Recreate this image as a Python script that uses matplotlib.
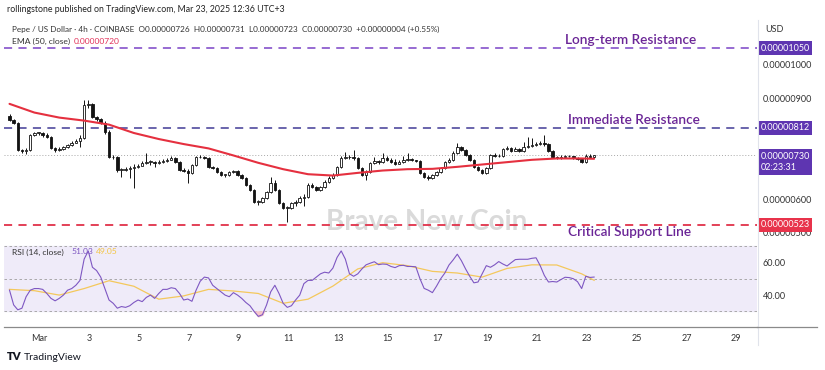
import matplotlib
matplotlib.use("Agg")
import matplotlib.pyplot as plt
import matplotlib.dates as mdates
import matplotlib.transforms as mtransforms
from matplotlib.lines import Line2D
import numpy as np
import pandas as pd

plt.rcParams['font.family'] = ['Lato', 'DejaVu Sans']

# PEPE/USD 4h candles, prices in units of 1e-8 USD (730 -> 0.00000730)
first_open = 848
close = [836, 827, 746, 743, 746, 791, 797, 797, 791, 785, 752, 746, 749, 755, 761, 767, 773, 782,
         881, 884, 845, 839, 827, 800, 725, 725, 687, 687, 690, 693, 696, 699, 708, 711,
         711, 708, 711, 713, 716, 722, 711, 687, 684, 678, 702, 725, 725, 722, 696, 693, 681, 672,
         672, 681, 684, 672, 663, 642, 627, 591, 591, 603, 621, 648, 627, 588, 573, 573, 588,
         591, 603, 606, 642, 636, 627, 636, 651, 663, 672, 696, 722, 725, 725, 722, 693, 672, 681,
         708, 713, 711, 722, 716, 711, 705, 711, 716, 719, 716, 713, 678, 666, 663, 672, 681,
         693, 711, 716, 737, 755, 746, 731, 716, 696, 687, 678, 693, 731, 728, 728, 749, 752, 743,
         749, 743, 755, 758, 761, 764, 767, 764, 743, 725, 722, 725, 728, 728, 722, 719, 711, 729,
         726, 730]
high = [854, 839, 830, 749, 752, 794, 800, 800, 800, 797, 788, 755, 755, 758, 764, 773, 779, 791,
        896, 896, 887, 848, 842, 833, 806, 731, 728, 693, 696, 699, 705, 705, 713, 737,
        716, 713, 716, 719, 722, 728, 725, 713, 693, 690, 705, 728, 731, 728, 725, 699, 696, 684,
        675, 684, 687, 687, 675, 666, 645, 630, 597, 606, 624, 666, 657, 630, 591, 579, 591,
        597, 609, 615, 648, 648, 639, 639, 657, 669, 678, 699, 728, 740, 731, 746, 725, 696, 687,
        711, 725, 716, 737, 728, 722, 719, 716, 728, 737, 722, 716, 716, 681, 672, 675, 684,
        696, 713, 722, 743, 767, 758, 749, 734, 719, 699, 690, 696, 734, 737, 734, 752, 758, 755,
        755, 752, 770, 785, 782, 770, 773, 791, 767, 746, 728, 731, 731, 731, 728, 725, 722, 734,
        734, 731]
low = [833, 824, 743, 737, 734, 743, 788, 791, 785, 782, 749, 740, 743, 746, 752, 758, 767, 755,
       779, 872, 842, 833, 824, 794, 722, 719, 681, 666, 684, 663, 633, 693, 702, 705,
       702, 696, 705, 708, 711, 716, 708, 684, 681, 648, 675, 699, 722, 719, 693, 690, 678, 669,
       666, 669, 678, 669, 660, 639, 624, 588, 582, 588, 600, 618, 624, 585, 570, 531, 570,
       579, 588, 579, 603, 633, 624, 624, 633, 648, 660, 669, 693, 719, 719, 716, 690, 669, 657,
       678, 705, 705, 708, 713, 708, 702, 705, 708, 713, 713, 711, 675, 663, 657, 660, 669,
       678, 690, 708, 713, 734, 743, 728, 713, 693, 684, 675, 675, 690, 725, 725, 725, 746, 740,
       743, 740, 740, 752, 755, 758, 761, 758, 740, 722, 719, 719, 722, 725, 719, 716, 708, 708,
       724, 723]

# EMA(50) read once per day (every 6th candle) plus the last candle
ema_idx = list(range(0, 142, 6)) + [141]
ema = [884, 858, 843, 834, 822, 797, 779, 764, 751, 730, 708, 689, 674, 670, 678, 685,
       689, 690, 696, 703, 710, 717, 721, 721, 720]

rsi = [43, 34, 31, 32, 39, 43, 44, 44, 43.5, 41, 38, 36.5, 38, 40, 43, 44, 46, 49, 62, 67,
       57, 55, 51, 44, 37, 35, 32, 33, 32.5, 33.5, 35.5, 37, 36, 38.6, 40, 38, 41, 43.5, 43.5,
       44.5, 44, 41, 37, 37.6, 36.2, 43, 48.5, 51, 50.5, 46, 44, 42, 40, 39, 41.5, 40, 38, 35.5,
       33.5, 30, 27, 28, 34, 42, 46, 41, 35, 32.5, 33.5, 37, 40, 47, 49, 49, 51, 53, 54, 53.5,
       56.5, 63, 67, 62, 53, 51.5, 53, 56, 58.5, 59.5, 60.4, 58.6, 59, 58.8, 57.5, 56.8, 58,
       58.2, 57.5, 57.5, 57.3, 50, 44.1, 43, 41.5, 45.5, 50, 53.5, 58.4, 61.5, 65, 61, 56, 51.5,
       47.5, 48, 53, 58, 57, 58.5, 60.5, 59, 57.8, 59.8, 61.7, 61.9, 61.9, 61.9, 62.5, 62.8, 58,
       52, 48, 48.3, 48, 49.5, 50.9, 50.7, 50, 48.2, 44, 51.5, 50.8, 51.03]
rsi_ma = [43.5, 42.7, 40, 44, 48.8, 45.4, 37.5, 39.5, 43.5, 42.5, 41, 35, 37.5, 45.5, 56,
          59.8, 58, 54.5, 53.5, 51, 56.3, 58.5, 58.4, 53, 49.05]

levels = {"Long-term Resistance": 1050, "Immediate Resistance": 812, "Critical Support Line": 523}
last_price = 730
day_ticks = ["2025-03-%02d" % d for d in range(1, 30, 2)]
day_labels = ["Mar"] + [str(d) for d in range(3, 30, 2)]

times = pd.date_range(end="2025-03-23 07:00", periods=len(close), freq="4h")
t = mdates.date2num(times)
c = np.array(close, float)
o = np.r_[first_open, c[:-1]]
hi = np.array(high, float)
lo = np.array(low, float)
r = np.array(rsi)

W, H = 825, 370
fig = plt.figure(figsize=(W / 100, H / 100), dpi=100)


def box(l, top, rgt, bot):
    return [l / W, 1 - bot / H, (rgt - l) / W, (bot - top) / H]


ax = fig.add_axes(box(4, 20, 757, 238))
rx = fig.add_axes(box(4, 238, 757, 327), sharex=ax)

base = mdates.date2num(pd.Timestamp("2025-03-01"))
ax.set_xlim(base - 1.43, base + 28.84)
ax.set_ylim(483.6, 1134.3)

# candles
ax.vlines(t, lo, hi, color="#131313", lw=0.7, zorder=3)
up = c >= o
bot = np.minimum(o, c)
hgt = np.maximum(np.abs(c - o), 1.8)
ax.bar(t[up], hgt[up], bottom=bot[up], width=0.1, color="white", edgecolor="#131313", lw=0.6, zorder=4)
ax.bar(t[~up], hgt[~up], bottom=bot[~up], width=0.1, color="#131313", edgecolor="#131313", lw=0.6, zorder=4)

ax.plot(t[ema_idx], ema, color="#e5303f", lw=1.5, zorder=5, solid_capstyle="round")

ax.axhline(last_price, color="#a8a8a8", lw=0.7, ls=(0, (1, 2)), zorder=2)
line_cols = ["#8f5fcf", "#5e58a6", "#e0324a"]
for (name, v), col in zip(levels.items(), line_cols):
    ax.axhline(v, color=col, lw=1.3, ls=(0, (4.5, 3.5)), zorder=2)

lab_y = {"Long-term Resistance": 40, "Immediate Resistance": 120, "Critical Support Line": 232}
for name in levels:
    fig.text(565 / W if name.startswith("Long") else 568 / W, 1 - lab_y[name] / H, name,
             fontsize=9.8, fontweight="semibold", color="#6a2596", va="center", ha="left", zorder=6)

ax.text(427 / W, 1 - 222 / H, "Brave New Coin", transform=fig.transFigure, fontsize=20,
        fontweight="bold", color="#dadada", ha="center", va="center", zorder=1)

ax.yaxis.tick_right()
ax.set_yticks([500, 600, 900, 1000])
ax.yaxis.set_major_formatter(plt.FuncFormatter(lambda v, p: "%.8f" % (v * 1e-8)))
ax.tick_params(axis="y", length=0, labelsize=6.5, labelcolor="#333333", pad=4)
ax.tick_params(axis="x", bottom=False, labelbottom=False)
for s in ax.spines.values():
    s.set_visible(False)

trans = mtransforms.blended_transform_factory(ax.transAxes, ax.transData)


def tag(y, txt, fc, va="center"):
    ax.text(1.0045, y, txt, transform=trans, ha="left", va=va, fontsize=6.5, color="white",
            linespacing=1.35, bbox=dict(boxstyle="square,pad=0.28", fc=fc, ec="none"),
            clip_on=False, zorder=10)


tag(levels["Long-term Resistance"], "0.00001050", "#5e35b1")
tag(levels["Immediate Resistance"], "0.00000812", "#5e35b1")
tag(levels["Critical Support Line"], "0.00000523", "#e8334b")
tag(741, "0.00000730\n02:23:31", "#5e35b1", va="top")

# RSI pane
rx.set_ylim(20.5, 74.9)
rx.axhspan(30, 70, color="#efebf9", zorder=0)
for lvl in (70, 50, 30):
    rx.axhline(lvl, color="#9e9e9e", lw=0.6, ls=(0, (3, 3)), zorder=1)
rx.fill_between(t, r, 30, where=r < 30, interpolate=True, color="#f7c6cc", zorder=2)
rx.plot(t[ema_idx], rsi_ma, color="#f4c85c", lw=0.9, zorder=3)
rx.plot(t, r, color="#7e57c2", lw=0.8, zorder=4)
rx.yaxis.tick_right()
rx.set_yticks([40, 60])
rx.yaxis.set_major_formatter(plt.FuncFormatter(lambda v, p: "%.2f" % v))
rx.tick_params(axis="y", length=0, labelsize=6.5, labelcolor="#333333", pad=4)
rx.set_xticks(mdates.date2num(pd.to_datetime(day_ticks)))
rx.set_xticklabels(day_labels)
rx.tick_params(axis="x", length=0, labelsize=6.5, labelcolor="#333333", pad=5)
for k, s in rx.spines.items():
    s.set_visible(k == "bottom")
rx.spines["bottom"].set_color("#8a8a8a")
rx.spines["bottom"].set_linewidth(0.9)

fig.add_artist(Line2D([757.5 / W] * 2, [1 - 20 / H, 1 - 345 / H], color="#e0e3eb", lw=0.8))
fig.add_artist(Line2D([757 / W, 817 / W], [1 - 327 / H] * 2, color="#8a8a8a", lw=0.9))

# header texts
fig.text(7 / W, 1 - 10 / H, "rollingstone published on TradingView.com, Mar 23, 2025 12:36 UTC+3",
         fontsize=6.3, color="#222222", va="center")
fig.text(12 / W, 1 - 29 / H,
         "Pepe / US Dollar \u00b7 4h \u00b7 COINBASE  O0.00000726  H0.00000731  L0.00000723  "
         "C0.00000730  +0.00000004 (+0.55%)", fontsize=5.9, color="#333333", va="center")
fig.text(12 / W, 1 - 41 / H, "EMA (50, close)", fontsize=6.1, color="#333333", va="center")
fig.text(74 / W, 1 - 41 / H, "0.00000720", fontsize=6.1, color="#e2325a", va="center")
fig.text(12 / W, 1 - 252 / H, "RSI (14, close)", fontsize=6.1, color="#333333", va="center")
fig.text(71 / W, 1 - 252 / H, "51.03", fontsize=6.1, color="#7e57c2", va="center")
fig.text(96 / W, 1 - 252 / H, "49.05", fontsize=6.1, color="#f4c542", va="center")
fig.text(765 / W, 1 - 30 / H, "USD", fontsize=6.5, color="#333333", va="center")

fig.text(7 / W, 1 - 357 / H, "TV", fontsize=8, fontweight="heavy", color="#131722", va="center")
fig.text(24 / W, 1 - 357 / H, "TradingView", fontsize=7.5, color="#131722", va="center")

fig.savefig("out.png", dpi=100)
